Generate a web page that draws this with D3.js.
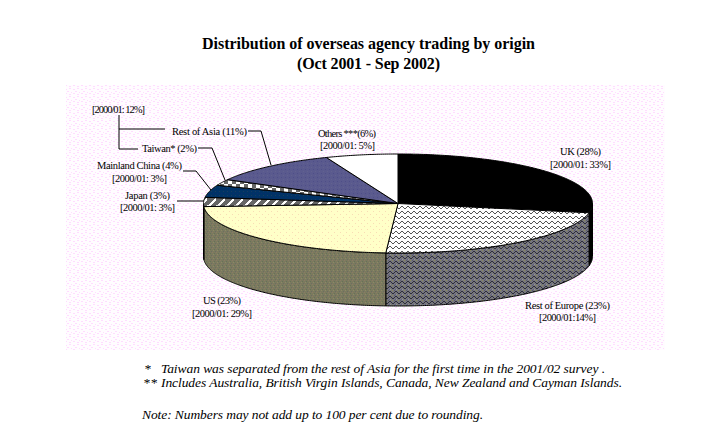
<!DOCTYPE html>
<html>
<head>
<meta charset="utf-8">
<script src="https://cdn.jsdelivr.net/npm/d3@7"></script>
<style>
html, body { margin: 0; padding: 0; background: #fff; }
svg { display: block; }
text { font-family: "Liberation Serif", "Times New Roman", serif; fill: #000; }
</style>
</head>
<body>
<div id="chart"></div>
<script>
// values, clockwise from 12 o'clock
const categories = ["UK", "Rest of Europe", "US", "Japan", "Mainland China", "Taiwan", "Rest of Asia", "Others"];
const shares = [28, 23, 23, 3, 4, 2, 11, 6];
const titleLines = ["Distribution of overseas agency trading by origin", "(Oct 2001 - Sep 2002)"];
const noteLines = [
	"Taiwan was separated from the rest of Asia for the first time in the 2001/02 survey .",
	"Includes Australia, British Virgin Islands, Canada, New Zealand and Cayman Islands.",
	"Note: Numbers may not add up to 100 per cent due to rounding."
];

var width = 717, height = 444;
var cx = 398, cy = 203.5, rx = 194.5, ry = 49.5, depth = 53;

var svg = d3.select("#chart").append("svg").attr("width", width).attr("height", height);
var defs = svg.append("defs");

// small pixel tiles, the reference is a dithered gif
function tile(id, w, h, base, pixels) {
	var p = defs.append("pattern").attr("id", id).attr("patternUnits", "userSpaceOnUse")
		.attr("width", w).attr("height", h);
	p.append("rect").attr("width", w).attr("height", h).attr("fill", base);
	pixels.forEach(function(d) {
		p.append("rect").attr("x", d[0]).attr("y", d[1]).attr("width", d[3] || 1).attr("height", d[4] || 1)
			.attr("fill", d[2]).attr("shape-rendering", "crispEdges");
	});
}
var zig = [0, 1, 2, 2, 1, 0];
function zigPixels(col) { return zig.map(function(z, i) { return [i, z + 1, col]; }); }

var pink = "#ffdcff";
tile("bgDots", 8, 8, "#fffcff", [[1, 1, pink, 2, 1], [5, 0, pink, 2, 1], [3, 3, pink, 2, 1], [7, 4, pink], [1, 5, pink, 2, 1], [5, 6, pink, 2, 1]]);
tile("zigTop", 6, 5, "#fff", zigPixels("#555"));
tile("zigWall", 6, 5, "#77777c", zigPixels("#2c2c3c").concat([[2, 0, "#8a8a55"], [5, 4, "#5a5a90"], [0, 4, "#96968a"], [4, 0, "#5a5a70"]]));
tile("creamTop", 6, 6, "#ffffc8", [[1, 1, "#f8dcb4"], [4, 4, "#f8dcb4"]]);
tile("usWall", 4, 4, "#7b7a5e", [[0, 0, "#8a7a66"], [2, 1, "#66705a"], [1, 2, "#8c8868"], [3, 3, "#6c6c64"]]);
tile("japanTop", 9, 9, "#666", d3.range(9).map(function(i) { return [(8 - i + 9) % 9, i, "#fff", 3, 1]; }).concat(d3.range(9).filter(function(i) { return i > 6; }).map(function(i) { return [0, i, "#fff", 1, 1]; })));
tile("chinaTop", 4, 4, "#003366", [[1, 1, "#0a2a70"], [3, 3, "#1a3a60"]]);
tile("taiwanTop", 8, 8, "#666", [[0, 0, "#fff", 4, 4], [4, 4, "#fff", 4, 4]]);
tile("asiaTop", 4, 4, "#5a5a8e", [[1, 1, "#4e4e88"], [3, 3, "#62628f"]]);

const topFills = ["#000", "url(#zigTop)", "url(#creamTop)", "url(#japanTop)", "url(#chinaTop)", "url(#taiwanTop)", "url(#asiaTop)", "#fff"];
const wallFills = ["#000", "url(#zigWall)", "url(#usWall)", "#666", "#003366", "#666", "#5a5a8e", "#fff"];

// plot area
svg.append("rect").attr("x", 66).attr("y", 85).attr("width", 599).attr("height", 265).attr("fill", "url(#bgDots)");

var x = d3.scaleLinear().domain([-1, 1]).range([cx - rx, cx + rx]);
var y = d3.scaleLinear().domain([-1, 1]).range([cy - ry, cy + ry]);
var line = d3.line();
var arcs = d3.pie().sort(null)(shares);

function rim(a0, a1, dy) {
	var n = Math.max(2, Math.ceil((a1 - a0) / 0.01));
	return d3.range(n + 1).map(function(i) {
		var a = a0 + (a1 - a0) * i / n;
		return [x(Math.sin(a)), y(-Math.cos(a)) + dy];
	});
}

// walls, only the part facing us (3 o'clock to 9 o'clock)
var wall = svg.append("g").attr("stroke", "#000").attr("stroke-width", 1);
arcs.forEach(function(d) {
	var a0 = Math.max(d.startAngle, Math.PI / 2), a1 = Math.min(d.endAngle, Math.PI * 1.5);
	if (a1 <= a0) return;
	var pts = rim(a0, a1, 0).concat(rim(a0, a1, depth).reverse());
	wall.append("path").attr("d", line(pts) + "Z").attr("fill", wallFills[d.index]);
});

// top face
svg.append("g").selectAll("path").data(arcs).enter().append("path")
	.attr("d", function(d) { return line([[x(0), y(0)]].concat(rim(d.startAngle, d.endAngle, 0))) + "Z"; })
	.attr("fill", function(d) { return topFills[d.index]; })
	.attr("stroke", "#000").attr("stroke-width", 1).attr("stroke-linejoin", "bevel");

// leader lines
var leaders = [
	[[119, 115], [119, 149], [138, 149]],
	[[119, 129], [165, 129]],
	[[248, 131], [261, 131], [271, 165]],
	[[198, 148], [212, 148], [225, 180]],
	[[183, 171], [196, 171], [211, 190]],
	[[177, 201], [204, 201]]
];
svg.append("g").selectAll("path").data(leaders).enter().append("path")
	.attr("d", function(d) { return line(d); }).attr("fill", "none").attr("stroke", "#000").attr("stroke-width", 1);

function put(s, x0, x1, base, size, opts) {
	var t = svg.append("text").attr("x", x0).attr("y", base).attr("font-size", size)
		.attr("textLength", x1 - x0).attr("lengthAdjust", "spacing").text(s);
	if (opts && opts.bold) t.attr("font-weight", "bold");
	if (opts && opts.italic) t.attr("font-style", "italic");
}

// title
put(titleLines[0], 202, 535, 49, 16, {bold: true});
put(titleLines[1], 297, 440, 69, 16, {bold: true});

// slice labels
put("[2000/01: 12%]", 92, 145, 113, 10.5);
put("Rest of Asia (11%)", 172, 247, 135, 10.5);
put("Others ***(6%)", 318, 376, 137, 10.5);
put("[2000/01: 5%]", 320, 375, 149, 10.5);
put("Taiwan* (2%)", 142, 197, 152, 10.5);
put("Mainland China (4%)", 97, 182, 169, 10.5);
put("[2000/01: 3%]", 112, 167, 182, 10.5);
put("Japan (3%)", 125, 170, 199, 10.5);
put("[2000/01: 3%]", 120, 175, 211, 10.5);
put("UK (28%)", 560, 601, 155, 10.5);
put("[2000/01: 33%]", 550, 611, 168, 10.5);
put("Rest of Europe (23%)", 525, 610, 309, 10.5);
put("[2000/01:14%]", 539, 596, 321, 10.5);
put("US (23%)", 203, 241, 304, 10.5);
put("[2000/01: 29%]", 192, 252, 317, 10.5);

// footnotes
put("*", 144, 150, 373, 13.5, {italic: true});
put(noteLines[0], 161, 605, 373, 13.5, {italic: true});
put("**", 143, 157, 387, 13.5, {italic: true});
put(noteLines[1], 161, 622, 387, 13.5, {italic: true});
put(noteLines[2], 142, 483, 419, 13.5, {italic: true});
</script>
</body>
</html>
